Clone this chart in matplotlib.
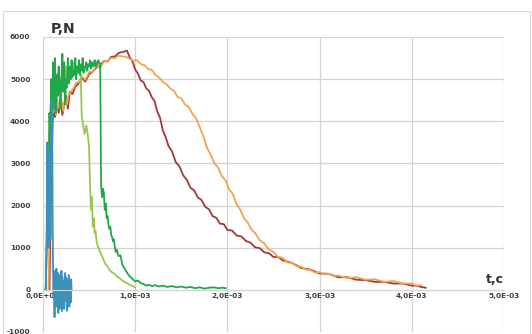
import matplotlib
matplotlib.use("Agg")
import matplotlib.pyplot as plt
from matplotlib.patches import Rectangle

# time in ms, force in N
t_blue = [0.00, 0.03, 0.04, 0.045, 0.05, 0.055, 0.06, 0.065, 0.07, 0.075, 0.08, 0.085,
          0.09, 0.095, 0.10, 0.105, 0.11, 0.115, 0.12, 0.125, 0.13, 0.14, 0.145, 0.15,
          0.16, 0.165, 0.17, 0.18, 0.185, 0.19, 0.20, 0.205, 0.21, 0.22, 0.225, 0.23,
          0.24, 0.245, 0.25, 0.26, 0.265, 0.27, 0.28, 0.285, 0.29, 0.30, 0.305, 0.31]
f_blue = [0, 0, 1200, 3500, 1400, 3300, 1000, 2900, 1800, 2600, 1200, 3800,
          2200, 4500, 3900, 1500, 300, -200, 450, -650, 300, -400, 500, -300,
          400, -550, 250, -450, 350, -200, 450, -500, 300, -350, 200, -450,
          400, -250, 300, -500, 250, -300, 350, -400, 200, -300, 250, 0]

t_green = [0.00, 0.03, 0.04, 0.05, 0.06, 0.07, 0.08, 0.09, 0.10, 0.11,
           0.12, 0.13, 0.14, 0.15, 0.16, 0.17, 0.18, 0.19, 0.20, 0.21,
           0.22, 0.23, 0.24, 0.25, 0.26, 0.27, 0.28, 0.29, 0.30, 0.31,
           0.32, 0.33, 0.34, 0.35, 0.36, 0.37, 0.38, 0.39, 0.40, 0.41,
           0.42, 0.43, 0.44, 0.45, 0.46, 0.47, 0.48, 0.49, 0.50, 0.51,
           0.52, 0.53, 0.54, 0.55, 0.56, 0.57, 0.58, 0.59, 0.60, 0.61,
           0.62, 0.625, 0.63, 0.64, 0.65, 0.66, 0.67, 0.68, 0.69, 0.70,
           0.71, 0.72, 0.73, 0.74, 0.75, 0.76, 0.77, 0.78, 0.79, 0.80,
           0.82, 0.84, 0.86, 0.88, 0.90, 0.92, 0.94, 0.96, 0.98, 1.00,
           1.03, 1.06, 1.09, 1.12, 1.15, 1.18, 1.22, 1.26, 1.30, 1.35,
           1.40, 1.45, 1.50, 1.55, 1.60, 1.65, 1.70, 1.75, 1.80, 1.85,
           1.90, 1.95, 1.98]
f_green = [0, 0, 1000, 3000, 2000, 4200, 3600, 5000, 4100, 5400,
           4300, 5500, 4200, 5100, 4600, 5300, 4900, 4300, 5000, 5600,
           4700, 5400, 4400, 5000, 4800, 5500, 4900, 5300, 5000, 5450,
           5050, 5200, 5100, 5500, 5000, 5300, 5150, 5450, 5100, 5350,
           5200, 5500, 5150, 5300, 5250, 5400, 5200, 5350, 5300, 5450,
           5250, 5400, 5300, 5350, 5450, 5300, 5400, 5350, 5450, 5400,
           5350, 4000, 2500, 2200, 2400, 2300, 1900, 2050, 1700, 1750,
           1550, 1450, 1500, 1300, 1250, 1150, 1200, 1000, 900, 950,
           800, 820, 600, 520, 450, 380, 320, 280, 240, 200,
           220, 160, 140, 100, 120, 90, 110, 80, 100, 70,
           90, 60, 80, 50, 70, 40, 60, 30, 50, 60,
           40, 50, 40]

t_lgreen = [0.00, 0.03, 0.05, 0.07, 0.09, 0.11, 0.13, 0.15, 0.17, 0.19,
            0.21, 0.23, 0.25, 0.27, 0.29, 0.31, 0.33, 0.35, 0.37, 0.39,
            0.41, 0.42, 0.43, 0.45, 0.47, 0.49, 0.50, 0.51, 0.52, 0.53,
            0.54, 0.55, 0.56, 0.57, 0.58, 0.60, 0.62, 0.64, 0.66, 0.68,
            0.70, 0.72, 0.74, 0.76, 0.78, 0.80, 0.83, 0.86, 0.89, 0.92,
            0.95, 0.98, 1.00]
f_lgreen = [0, 0, 2500, 4000, 4600, 4200, 5000, 4500, 5200, 4700,
            5100, 4800, 5300, 4900, 5200, 5000, 5400, 5100, 5300, 5200,
            5100, 4100, 4000, 3700, 3900, 3600, 3350, 2500, 1900, 2200,
            1500, 1700, 1350, 1400, 1150, 1000, 900, 800, 700, 600,
            560, 480, 430, 400, 380, 320, 280, 220, 180, 150,
            110, 80, 60]

t_orange = [0.06, 0.08, 0.10, 0.12, 0.14, 0.16, 0.18, 0.20, 0.22, 0.24,
            0.26, 0.28, 0.30, 0.33, 0.36, 0.39, 0.42, 0.46, 0.50, 0.54,
            0.58, 0.62, 0.66, 0.70, 0.74, 0.78, 0.82, 0.86, 0.90, 0.94,
            0.98, 1.02, 1.06, 1.10, 1.14, 1.18, 1.22, 1.26, 1.30, 1.34,
            1.38, 1.42, 1.46, 1.50, 1.54, 1.58, 1.62, 1.66, 1.70, 1.74,
            1.78, 1.82, 1.86, 1.90, 1.94, 1.98, 2.02, 2.06, 2.10, 2.14,
            2.18, 2.22, 2.26, 2.30, 2.35, 2.40, 2.45, 2.50, 2.55, 2.60,
            2.65, 2.70, 2.75, 2.80, 2.85, 2.90, 2.95, 3.00, 3.05, 3.10,
            3.15, 3.20, 3.30, 3.40, 3.50, 3.60, 3.70, 3.80, 3.90, 4.00,
            4.05, 4.10]
f_orange = [0, 3000, 4300, 4500, 4150, 4450, 4300, 4500, 4250, 4600,
            4400, 4650, 4700, 4780, 4920, 4930, 5070, 4980, 5170, 5180,
            5320, 5260, 5420, 5430, 5500, 5500, 5560, 5540, 5530, 5480,
            5440, 5450, 5360, 5330, 5240, 5220, 5100, 5040, 4930, 4880,
            4780, 4720, 4580, 4540, 4400, 4340, 4180, 4070, 3860, 3640,
            3360, 3200, 3000, 2900, 2700, 2600, 2380, 2270, 2030, 1900,
            1700, 1600, 1430, 1350, 1180, 1100, 960, 900, 780, 760,
            650, 640, 560, 550, 480, 470, 410, 420, 370, 380,
            330, 340, 280, 300, 240, 250, 190, 210, 150, 150,
            100, 110]

t_brown = [0.07, 0.09, 0.11, 0.13, 0.15, 0.17, 0.19, 0.21, 0.23, 0.25,
           0.27, 0.29, 0.32, 0.35, 0.38, 0.42, 0.46, 0.50, 0.54, 0.58,
           0.62, 0.66, 0.70, 0.74, 0.78, 0.82, 0.85, 0.88, 0.91, 0.94,
           0.97, 1.00, 1.03, 1.06, 1.09, 1.12, 1.15, 1.18, 1.21, 1.24,
           1.27, 1.30, 1.33, 1.36, 1.40, 1.44, 1.48, 1.52, 1.56, 1.60,
           1.64, 1.68, 1.72, 1.76, 1.80, 1.84, 1.88, 1.92, 1.96, 2.00,
           2.05, 2.10, 2.15, 2.20, 2.25, 2.30, 2.35, 2.40, 2.45, 2.50,
           2.55, 2.60, 2.70, 2.80, 2.90, 3.00, 3.10, 3.20, 3.30, 3.40,
           3.50, 3.60, 3.70, 3.80, 3.90, 4.00, 4.05, 4.10, 4.15]
f_brown = [0, 2800, 4350, 4100, 4500, 4200, 4550, 4150, 4400, 4600,
           4300, 4700, 4650, 4820, 4880, 5030, 4940, 5120, 5180, 5280,
           5330, 5430, 5420, 5530, 5540, 5620, 5640, 5650, 5680, 5520,
           5420, 5230, 5130, 4970, 4930, 4780, 4720, 4570, 4480, 4230,
           4080, 3780, 3630, 3420, 3280, 3030, 2930, 2720, 2610, 2420,
           2360, 2190, 2130, 1970, 1910, 1750, 1710, 1570, 1560, 1420,
           1410, 1290, 1270, 1160, 1120, 1010, 990, 890, 870, 780,
           780, 700, 640, 520, 480, 390, 380, 300, 300, 240,
           230, 190, 190, 150, 150, 100, 100, 70, 50]

x_ticks = [0, 1, 2, 3, 4, 5]
x_labels = ["0,0E+00", "1,0E-03", "2,0E-03", "3,0E-03", "4,0E-03", "5,0E-03"]
y_ticks = [-1000, 0, 1000, 2000, 3000, 4000, 5000, 6000]

W, H = 532, 334
fig = plt.figure(figsize=(W / 100, H / 100), dpi=100)
fig.patches.append(Rectangle((3 / W, -0.1), 527 / W, 1.1 - 11 / H, transform=fig.transFigure,
                             fill=False, edgecolor="#d9d9d9", lw=0.8))

ax = fig.add_axes([43 / W, 1 - 332 / H, (504 - 43) / W, (332 - 37) / H])
ax.set_xlim(0, 5)
ax.set_ylim(-1000, 6000)

grid_c = "#d4d4d4"
for s in ["top", "right"]:
    ax.spines[s].set_visible(False)
ax.spines["left"].set_color(grid_c)
ax.spines["bottom"].set_position(("data", 0))
ax.spines["bottom"].set_color(grid_c)
ax.grid(True, color=grid_c, lw=0.9)

ax.set_xticks(x_ticks)
ax.set_xticklabels(x_labels)
ax.set_yticks(y_ticks)
ax.set_yticklabels([str(v) for v in y_ticks])
ax.tick_params(length=0, labelsize=5.3, labelcolor="#404040", pad=2)
ax.tick_params(axis="y", pad=9)
for lab in ax.get_xticklabels() + ax.get_yticklabels():
    lab.set_fontweight("bold")

lw = 1.3
ax.plot(t_brown, f_brown, color="#9e3a3a", lw=lw)
ax.plot(t_orange, f_orange, color="#f5a24e", lw=lw)
ax.plot(t_lgreen, f_lgreen, color="#9dc352", lw=lw)
ax.plot(t_green, f_green, color="#22a84a", lw=lw)
ax.plot(t_blue, f_blue, color="#3d91b8", lw=lw)

fig.text(51 / W, 1 - 33 / H, "P,N", fontsize=10, fontweight="bold", color="#333333",
         va="baseline", ha="left")
fig.text(495 / W, 1 - 283 / H, "t,c", fontsize=9, fontweight="bold", color="#333333",
         va="baseline", ha="center")

fig.savefig("out.png", dpi=100)
